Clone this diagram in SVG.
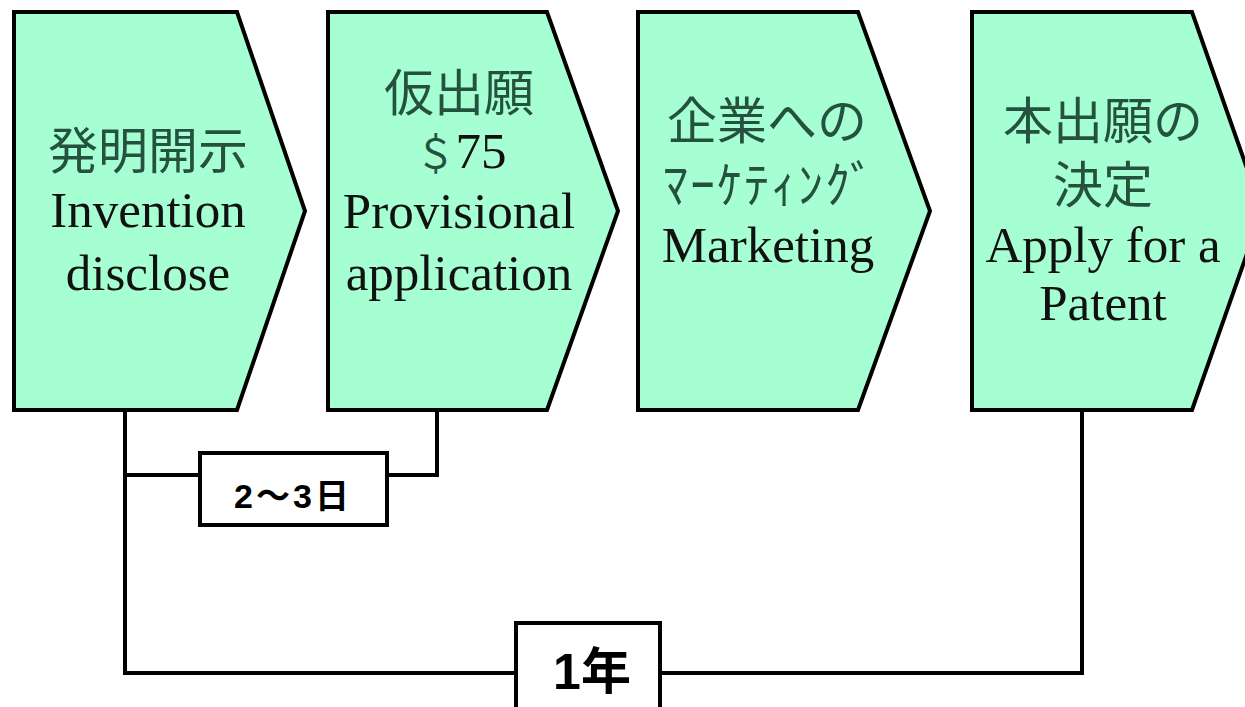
<svg xmlns="http://www.w3.org/2000/svg" width="1245" height="707" viewBox="0 0 1245 707">
<style>
.box{fill:#A6FFD3;stroke:#000;stroke-width:4;stroke-linejoin:miter}
.lab{fill:#fff;stroke:#000;stroke-width:4}
.con{fill:none;stroke:#000;stroke-width:4;stroke-linejoin:miter}
.t{font-family:"Liberation Serif","Noto Sans CJK JP",serif;font-size:51px;text-anchor:middle;fill:#111}
.j{font-family:"Liberation Serif","Noto Sans CJK JP",serif;font-size:50px;text-anchor:middle;fill:#24523e}
.g{font-family:"Liberation Sans","Noto Sans CJK JP",sans-serif;font-weight:bold;text-anchor:middle;fill:#000}
</style>
<rect width="1245" height="707" fill="#fff"/>
<g id="connectors">
<path class="con" d="M125,410 V673 H518"/>
<path class="con" d="M658,673 H1082 V410"/>
<path class="con" d="M125,475 H202"/>
<path class="con" d="M385,475 H437 V410"/>
</g>
<g id="node-invention">
<polygon class="box" points="14,12 237,12 305,211 237,410 14,410"/>
<text class="j" x="148" y="169">発明開示</text>
<text class="t" x="148" y="227">Invention</text>
<text class="t" x="148" y="290">disclose</text>
</g>
<g id="node-provisional">
<polygon class="box" points="328,12 547,12 618,211 547,410 328,410"/>
<text class="j" x="459" y="111">仮出願</text>
<text class="t" x="461" y="168"><tspan font-size="40" fill="#24523e">＄</tspan>75</text>
<text class="t" x="459" y="228">Provisional</text>
<text class="t" x="459" y="290">application</text>
</g>
<g id="node-marketing">
<polygon class="box" points="638,12 858,12 930,211 858,410 638,410"/>
<text class="j" x="767" y="139">企業への</text>
<text class="j" x="770" y="203" letter-spacing="2">ﾏｰｹﾃｨﾝｸﾞ</text>
<text class="t" x="768" y="262">Marketing</text>
</g>
<g id="node-patent">
<polygon class="box" points="972,12 1192,12 1262,211 1192,410 972,410"/>
<text class="j" x="1103" y="139">本出願の</text>
<text class="j" x="1103" y="203">決定</text>
<text class="t" x="1103" y="262">Apply for a</text>
<text class="t" x="1103" y="320">Patent</text>
</g>
<g id="label-days">
<rect class="lab" x="200" y="453" width="187" height="72"/>
<text class="g" x="293" y="508" font-size="34" letter-spacing="3">2～3日</text>
</g>
<g id="label-year">
<rect class="lab" x="516" y="623" width="144" height="100"/>
<text class="g" x="592" y="689" font-size="50">1年</text>
</g>
</svg>
